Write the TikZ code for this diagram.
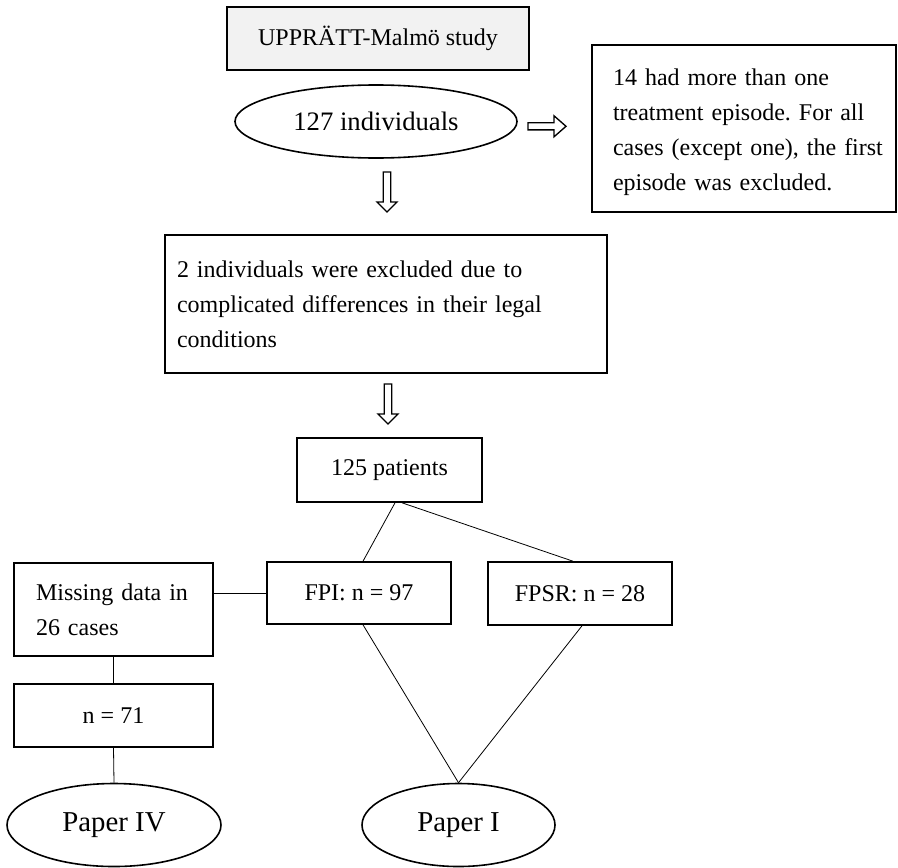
\documentclass[tikz,border=0pt]{standalone}
\usepackage{fontspec}
\setmainfont{Liberation Serif}
\usetikzlibrary{shapes.geometric,calc}
\def\px{0.75pt}
\frenchspacing
\tikzset{
  box/.style={draw, line width=1.2pt, inner sep=0pt, font=\fontsize{18}{26.25}\selectfont},
  leftbox/.style={box, align=left},
  ell/.style={draw, ellipse, line width=1.2pt, inner sep=0pt, font=\fontsize{20}{26}\selectfont},
  bigell/.style={ell, font=\fontsize{21.6}{26}\selectfont},
  conn/.style={draw, line width=0.6pt},
  blockarrow/.style={draw, line width=1pt, fill=white},
  pics/rarrowpic/.style={code={
    \draw[blockarrow] (0,-3.6) -- (26,-3.6) -- (26,-10.5) -- (38,0) -- (26,10.5) -- (26,3.6) -- (0,3.6) -- cycle;
  }},
  pics/darrowpic/.style={code={
    \draw[blockarrow] (-3.7,0) -- (3.7,0) -- (3.7,30) -- (10,30) -- (0,40) -- (-10,30) -- (-3.7,30) -- cycle;
  }}
}
\begin{document}
\frenchspacing
\begin{tikzpicture}[x=0.75pt, y=-0.75pt]
\useasboundingbox (0,0) rectangle (898,867);

\node[box, fill=black!5, minimum width=302*\px, minimum height=63*\px] (up) at (378,38.5) {UPPRÄTT-Malmö study};
\node[ell, minimum width=282*\px, minimum height=73*\px] (e1) at (376,121.5) {127 individuals};

\node[leftbox, minimum width=304*\px, minimum height=167*\px, text width=262*\px, inner xsep=21*\px] (rb) at (744,128.5)
  {\mbox{\rule{0pt}{18pt}14 had more than one}\\\mbox{treatment episode. For all}\\\mbox{cases (except one), the first}\\\mbox{episode was excluded.}};

\node[leftbox, minimum width=442*\px, minimum height=138*\px, text width=418*\px, inner xsep=12*\px] (b2) at (386,304)
  {\mbox{2 individuals were excluded due to}\\\mbox{complicated differences in their legal}\\\mbox{conditions}};

\node[box, minimum width=185*\px, minimum height=64*\px] (p125) at (389.5,470) {125 patients};
\node[box, minimum width=184*\px, minimum height=62*\px] (fpi) at (359,593) {FPI: n = 97};
\node[box, minimum width=184*\px, minimum height=63*\px] (fpsr) at (580,593.5) {FPSR: n = 28};

\node[leftbox, minimum width=199*\px, minimum height=93*\px, text width=155*\px, inner xsep=22*\px] (miss) at (113.5,609.5)
  {\mbox{Missing data in}\\\mbox{26 cases}};
\node[box, minimum width=199*\px, minimum height=63*\px] (n71) at (113.5,715.5) {n = 71};

\node[bigell, minimum width=214*\px, minimum height=83*\px] (p4) at (114,825) {Paper IV};
\node[bigell, minimum width=193*\px, minimum height=83*\px] (p1) at (458.5,825) {Paper I};

% block arrows
\coordinate (ra) at (528,126.3);
\coordinate (da1) at (387,172);
\coordinate (da2) at (388,384);
\pic at (ra) {rarrowpic};
\pic at (da1) {darrowpic};
\pic at (da2) {darrowpic};

% connectors
\draw[conn] ([xshift=5.5*\px]p125.south) -- ([xshift=4*\px]fpi.north);
\draw[conn] ([xshift=12.5*\px]p125.south) -- ([xshift=-7*\px]fpsr.north);
\draw[conn] (fpi.west) -- (fpi.west -| miss.east);
\draw[conn] (miss.south) -- (n71.north);
\draw[conn] (n71.south) -- (p4.north);
\draw[conn] ([xshift=4*\px]fpi.south) -- (p1.north);
\draw[conn] ([xshift=2*\px]fpsr.south) -- (p1.north);
\end{tikzpicture}
\end{document}
